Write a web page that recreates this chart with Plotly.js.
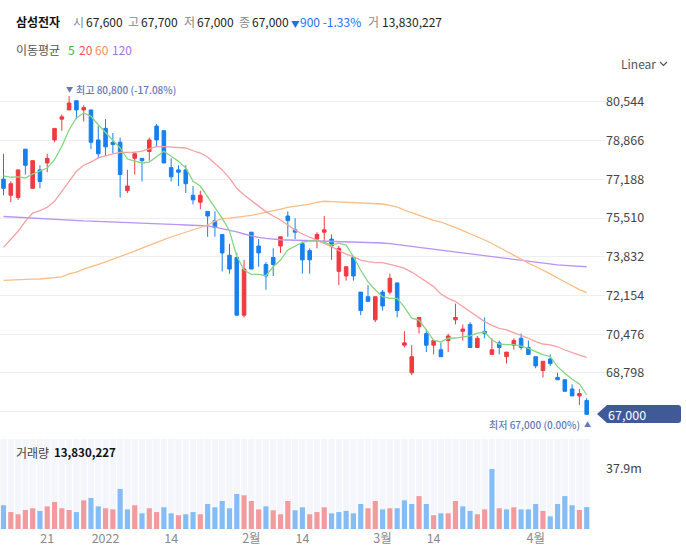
<!DOCTYPE html>
<html><head><meta charset="utf-8">
<script src="https://cdn.plot.ly/plotly-3.0.1.min.js"></script>
<style>html,body{margin:0;padding:0;background:#fff}#c{width:686px;height:551px}</style>
</head><body><div id="c"></div>
<script>
const dates = [
 "2021-12-13","2021-12-14","2021-12-15","2021-12-16","2021-12-17","2021-12-20","2021-12-21","2021-12-22","2021-12-23","2021-12-24","2021-12-27","2021-12-28","2021-12-29","2021-12-30",
 "2022-01-03","2022-01-04","2022-01-05","2022-01-06","2022-01-07","2022-01-10","2022-01-11","2022-01-12","2022-01-13","2022-01-14","2022-01-17","2022-01-18","2022-01-19","2022-01-20","2022-01-21","2022-01-24","2022-01-25","2022-01-26","2022-01-27","2022-01-28",
 "2022-02-03","2022-02-04","2022-02-07","2022-02-08","2022-02-09","2022-02-10","2022-02-11","2022-02-14","2022-02-15","2022-02-16","2022-02-17","2022-02-18","2022-02-21","2022-02-22","2022-02-23","2022-02-24","2022-02-25","2022-02-28",
 "2022-03-02","2022-03-03","2022-03-04","2022-03-07","2022-03-08","2022-03-10","2022-03-11","2022-03-14","2022-03-15","2022-03-16","2022-03-17","2022-03-18","2022-03-21","2022-03-22","2022-03-23","2022-03-24","2022-03-25","2022-03-28","2022-03-29","2022-03-30","2022-03-31",
 "2022-04-01","2022-04-04","2022-04-05","2022-04-06","2022-04-07","2022-04-08","2022-04-11","2022-04-12"];

const openP = [77200,76500,76400,78500,76800,77600,77900,78900,79800,80200,
 80600,80200,80200,78900,79400,78800,78800,76700,78100,78100,
 78400,79500,79300,77700,77600,77600,76500,76200,75800,75400,
 74800,73900,73800,71300,74900,74300,73500,73800,74300,75600,
 75000,74400,74100,74600,74900,74600,73200,73000,73800,72300,
 72100,71100,72300,72300,72700,70000,68800,70800,70500,70000,
 69800,70200,71100,70600,70900,69900,70600,69600,70100,69500,
 70000,70300,69900,69500,68900,69400,68600,68500,68100,67800,
 67600];
const highP = [78300,77100,77600,78500,78000,77800,78300,79400,80000,80800,
 80600,80400,80200,79500,79800,79200,79000,77600,78400,78100,
 79000,79600,79300,78100,77800,77800,76900,76700,75800,75800,
 74800,74400,74000,73700,74900,74600,73600,74200,74700,75800,
 75500,74500,74200,74900,75600,74800,74300,73400,73800,72300,
 72600,72100,72400,73100,72700,70600,70000,71200,70700,70200,
 70100,70500,71800,70900,71000,70400,71200,70300,70200,69700,
 70300,70500,70200,69500,69300,69600,68800,68500,68300,68100,
 67700];
const lowP = [76500,76200,76300,77400,76800,76800,77500,78800,79300,80200,
 79800,79700,78500,78100,78200,78300,76400,76600,77400,77100,
 78000,78600,77900,77100,76900,76600,76100,75900,74700,74700,
 73200,73100,71300,71200,73300,73400,72400,73000,74000,74700,
 74600,73100,73100,74200,74500,73700,72600,72800,72800,71300,
 71900,71000,71500,72200,71200,69900,68700,70500,69700,69600,
 69500,69700,70900,70200,69900,69900,70300,69600,69600,69200,
 69800,69800,69600,69000,68600,69100,68500,68000,67800,67400,
 67000];
const closeP = [76800,77000,77600,77800,78000,77100,78100,79400,79900,80500,
 80200,80300,78800,78300,78600,78700,77400,76900,78300,78000,
 78900,78900,77900,77300,77500,77000,76300,76500,75600,75100,
 74000,73300,71300,73300,73300,74000,73000,73500,74700,75400,
 74900,73700,73700,74800,75000,74300,74200,73400,73000,71500,
 71900,72100,71700,72900,71500,70100,69500,71200,70000,70200,
 69500,70400,71200,70700,69900,70300,70500,69800,69900,69700,
 70200,69900,69600,69100,69300,69200,68500,68000,67800,67900,
 67000];

const ma5 = [77340,77280,77300,77250,77420,77540,77680,78040,78620,79340,
 79850,80070,79920,79560,79230,78910,78550,78070,78000,77900,
 77940,78190,78410,78190,77970,77680,77110,76900,76420,75990,
 75500,74950,73850,73260,73070,73070,73010,73400,73690,74130,
 74300,74460,74520,74520,74460,74340,74420,74340,73840,73260,
 72750,72390,72100,72030,72030,71640,71170,71090,70660,70220,
 70140,70300,70310,70370,70400,70520,70570,70220,70050,70020,
 70020,69960,69860,69720,69590,69500,69070,68780,68520,68320,
 67850];
const ma20 = [74240,74570,74940,75370,75730,75830,75980,76240,76670,77110,
 77540,77800,77940,78120,78220,78290,78360,78360,78360,78410,
 78510,78610,78610,78580,78550,78550,78430,78330,78160,77900,
 77600,77240,76800,76510,76260,76000,75790,75600,75430,75210,
 74990,74820,74680,74560,74420,74270,74100,73950,73840,73690,
 73620,73580,73580,73520,73430,73330,73170,72970,72750,72540,
 72220,72030,71890,71670,71450,71230,71020,70860,70730,70660,
 70540,70440,70300,70150,70050,70010,69930,69790,69670,69570,
 69470];
const ma60 = [72810,72830,72840,72850,72860,72870,72890,72910,72960,73090,
 73170,73300,73390,73500,73610,73720,73850,73950,74080,74210,
 74340,74450,74580,74690,74800,74910,75020,75120,75210,75380,
 75490,75510,75540,75580,75630,75690,75750,75820,75900,75970,
 76010,76060,76120,76190,76240,76220,76210,76190,76180,76170,
 76170,76150,76120,76060,75990,75860,75740,75620,75510,75410,
 75340,75230,75100,74970,74840,74700,74560,74410,74240,74040,
 73870,73720,73560,73410,73260,73090,72910,72740,72570,72410,
 72280];
const ma120 = [75580,75560,75540,75530,75510,75500,75480,75460,75440,75420,
 75410,75390,75380,75370,75360,75340,75320,75310,75300,75290,
 75280,75270,75250,75240,75230,75210,75200,75190,75170,75120,
 75060,74990,74910,74820,74730,74670,74630,74590,74570,74560,
 74550,74540,74530,74530,74520,74520,74510,74510,74500,74480,
 74470,74450,74430,74400,74370,74310,74280,74240,74200,74170,
 74130,74080,74040,74000,73950,73910,73880,73840,73800,73750,
 73710,73670,73620,73580,73540,73510,73480,73460,73430,73420,
 73400];

const volume = [15000000,10700000,9300000,12000000,13100000,11400000,14300000,17100000,13100000,12000000,
 10700000,18100000,19600000,14300000,13100000,12400000,25300000,12400000,15000000,9900000,
 13100000,10700000,13700000,9900000,8700000,9300000,10700000,9300000,15800000,13700000,
 17700000,13100000,22100000,21300000,17700000,12400000,14300000,11800000,9300000,17700000,
 11800000,13700000,9300000,10700000,13700000,9900000,10700000,11400000,9900000,15800000,
 13100000,17700000,12400000,13100000,13100000,18100000,15800000,20800000,15800000,8700000,
 9900000,9900000,17700000,14300000,11400000,9300000,12400000,37900000,13100000,12400000,
 13700000,12400000,12400000,15800000,11400000,8000000,15800000,20800000,15000000,12000000,
 13830227];

const priceTicks = [67120,68798,70476,72154,73832,75510,77188,78866,80544];
const priceTickText = ["","68,798","70,476","72,154","73,832","75,510","77,188","78,866","80,544"];
const dateTickVals = ["2021-12-21","2022-01-03","2022-01-14","2022-02-03","2022-02-14","2022-03-02","2022-03-14","2022-04-01"];
const dateTickText = ["21","2022","14","2월","14","3월","14","4월"];
const volTickVals = [37900000];
const volTickText = ["37.9m"];

const W = 686, H = 551;
const PX = x => x / W, PY = y => 1 - y / H;
const RED = '#ef3b40', BLUE = '#1580f0';
const VRED = '#f39a9d', VBLUE = '#84bcf6';
const FONT = '"Noto Sans CJK KR", "Noto Sans", sans-serif';
const VOLTOP = 56850000;

const volColors = closeP.map((c, i) => i === 0 ? (c >= openP[0] ? VRED : VBLUE) : (c >= closeP[i-1] ? VRED : VBLUE));

const maLine = (y, color) => ({type:'scatter', mode:'lines', x:dates, y:y, xaxis:'x', yaxis:'y',
  line:{color:color, width:1.3}, hoverinfo:'skip', showlegend:false});

const traces = [
  {type:'bar', x:dates, y:dates.map(()=>VOLTOP), xaxis:'x', yaxis:'y2', marker:{color:'#f4f6fb'}, width:0.86, hoverinfo:'skip', showlegend:false},
  {type:'bar', x:dates, y:volume, xaxis:'x', yaxis:'y2', marker:{color:volColors}, width:0.7, hoverinfo:'skip', showlegend:false},
  maLine(ma120, '#b993f6'),
  maLine(ma60, '#fbbd85'),
  maLine(ma20, '#f6a1a3'),
  maLine(ma5, '#85d685'),
  {type:'candlestick', x:dates, open:openP, high:highP, low:lowP, close:closeP, xaxis:'x', yaxis:'y',
   increasing:{line:{color:RED, width:1}, fillcolor:RED},
   decreasing:{line:{color:BLUE, width:1}, fillcolor:BLUE},
   hoverinfo:'skip', showlegend:false}
];

function ann(text, x, y, opts) {
  opts = opts || {};
  return {text:text, xref:'paper', yref:'paper', x:PX(x), y:PY(y),
    xanchor:opts.xa || 'left', yanchor:'middle', showarrow:false, borderpad:0,
    font:{family:FONT, size:opts.size || 12, color:opts.color || '#222', weight:opts.weight || 400}};
}

const annotations = [
  ann('삼성전자', 15, 22, {weight:700, color:'#111'}),
  ann('시', 72, 22, {color:'#8a8a8a'}),
  ann('67,600', 85, 22),
  ann('고', 127, 22, {color:'#8a8a8a'}),
  ann('67,700', 140, 22),
  ann('저', 183, 22, {color:'#8a8a8a'}),
  ann('67,000', 196, 22),
  ann('종', 238, 22, {color:'#8a8a8a'}),
  ann('67,000', 251, 22),
  ann('▼', 295, 23, {xa:'center', size:8.5, color:'#1e6ff0'}),
  ann('900 -1.33%', 299, 22, {color:'#1e6ff0'}),
  ann('거', 367, 22, {color:'#8a8a8a'}),
  ann('13,830,227', 381, 22),
  ann('이동평균', 15, 49, {size:12, color:'#555'}),
  ann('5', 67, 49, {size:12, color:'#3cb93c'}),
  ann('20', 78, 49, {size:12, color:'#f2555a'}),
  ann('60', 94, 49, {size:12, color:'#f5905c'}),
  ann('120', 111, 49, {size:12, color:'#a572f0'}),
  ann('Linear', 620, 64, {size:12, color:'#555'}),
  ann('▼', 69.5, 89, {xa:'center', size:7, color:'#6478b4'}),
  ann('최고 80,800 (-17.08%)', 75, 89, {size:10, color:'#6478b4', weight:500}),
  ann('최저 67,000 (0.00%)', 581, 424, {xa:'right', size:10, color:'#6478b4', weight:500}),
  ann('▲', 587, 424, {xa:'center', size:7, color:'#6478b4'}),
  ann('67,000', 627, 414, {xa:'center', size:12.5, color:'#ffffff'}),
  ann('거래량', 15, 452, {size:12, color:'#444'}),
  ann('13,830,227', 53, 452, {size:11.5, color:'#111', weight:700})
];

function pathPx(cmds) {
  return cmds.map(c => typeof c === 'string' ? c : (PX(c[0]) + ',' + PY(c[1]))).join(' ');
}
const shapes = [
  {type:'path', xref:'paper', yref:'paper', fillcolor:'#3f5a97', line:{width:0},
   path: pathPx(['M',[597,414],'L',[607,405],'L',[678,405],'Q',[681,405],[681,408],'L',[681,420],'Q',[681,423],[678,423],'L',[607,423],'Z'])},
  {type:'path', xref:'paper', yref:'paper', line:{color:'#555', width:1.2},
   path: pathPx(['M',[660,62],'L',[663.5,65.5],'L',[667,62]])}
];

const layout = {
  width:W, height:H, margin:{l:0, r:0, t:0, b:0}, paper_bgcolor:'#fff', plot_bgcolor:'rgba(0,0,0,0)',
  showlegend:false, barmode:'overlay', boxgap:0.3, hovermode:false,
  font:{family:FONT, color:'#444'},
  xaxis:{domain:[0, 605/W], type:'category', range:[-0.48, 82.51], anchor:'y2',
    tickvals:dateTickVals, ticktext:dateTickText, tickfont:{size:12.5, color:'#8a8a8a', family:FONT},
    showgrid:false, zeroline:false, showline:false, ticks:'', rangeslider:{visible:false}, fixedrange:true},
  yaxis:{domain:[PY(437), PY(68)], range:[66018, 82018], side:'right', anchor:'x',
    tickvals:priceTicks, ticktext:priceTickText, tickfont:{size:12.5, color:'#444', family:FONT},
    gridcolor:'#efefef', gridwidth:1, zeroline:false, showline:false, ticks:'', fixedrange:true},
  yaxis2:{domain:[PY(529), PY(439)], range:[0, VOLTOP], side:'right', anchor:'x',
    tickvals:volTickVals, ticktext:volTickText, tickfont:{size:12.5, color:'#444', family:FONT},
    showgrid:false, zeroline:false, showline:false, ticks:'', fixedrange:true},
  annotations:annotations, shapes:shapes
};

Plotly.newPlot('c', traces, layout, {staticPlot:true, displayModeBar:false});
</script></body></html>
